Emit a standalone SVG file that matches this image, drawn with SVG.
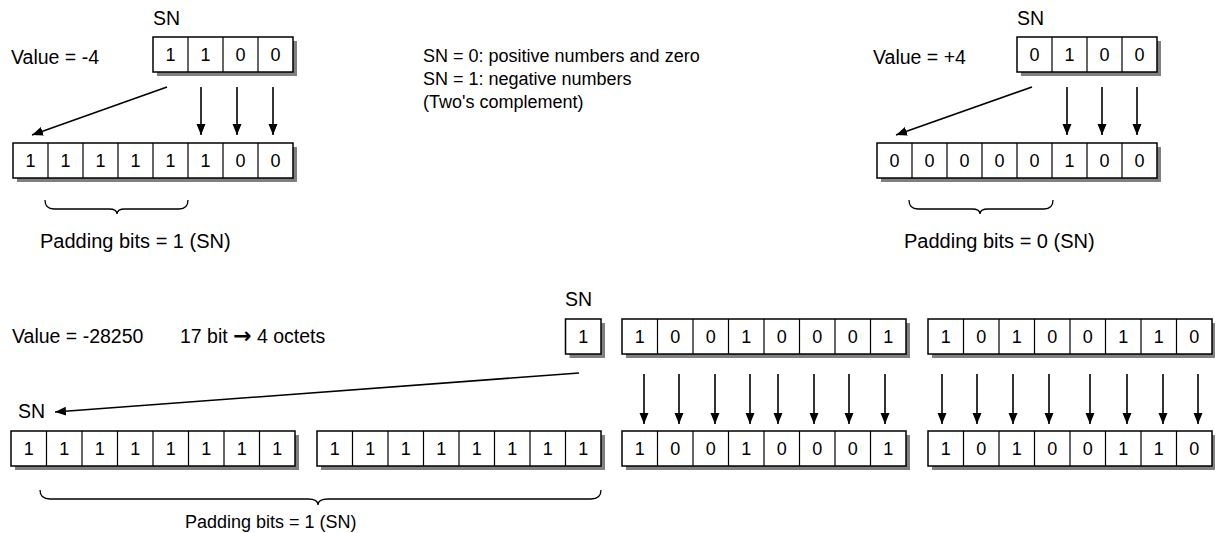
<svg xmlns="http://www.w3.org/2000/svg" width="1215" height="533" viewBox="0 0 1215 533">
<style>
text{font-family:"Liberation Sans",Arial,sans-serif;font-size:18px;fill:#000}
.l{font-size:19.5px}
.p{font-size:20px}
.d{text-anchor:middle}
.ax{font-family:"DejaVu Sans",sans-serif;font-size:22px;font-weight:bold}
.sh{fill:#808080}
.bx{fill:#fff;stroke:#000;stroke-width:1.5}
.cl{stroke:#000;stroke-width:1.2}
.ar{stroke:#000;stroke-width:1.6;fill:none;marker-end:url(#ah)}
.br{stroke:#000;stroke-width:1.3;fill:none}
</style>
<defs>
<marker id="ah" markerUnits="userSpaceOnUse" markerWidth="12" markerHeight="12" viewBox="0 0 12 12" refX="11" refY="6" orient="auto">
<path d="M0,1.5 L11,6 L0,10.5 Z" fill="#000"/>
</marker>
</defs>
<rect width="1215" height="533" fill="#fff"/>

<!-- Top-left -->
<g id="tl-labels">
<text class="l" x="153" y="25">SN</text>
<text class="l" x="11" y="64">Value = -4</text>
</g>
<g id="tl-src">
<rect class="sh" x="157" y="41" width="140" height="35"/>
<rect class="bx" x="153" y="37" width="140" height="35"/>
<path class="cl" d="M188,37V72M223,37V72M258,37V72"/>
<text class="d" x="170.5" y="61">1</text><text class="d" x="205.5" y="61">1</text><text class="d" x="240.5" y="61">0</text><text class="d" x="275.5" y="61">0</text>
</g>
<g id="tl-dst">
<rect class="sh" x="17" y="147" width="280" height="35"/>
<rect class="bx" x="13" y="143" width="280" height="35"/>
<path class="cl" d="M48,143V178M83,143V178M118,143V178M153,143V178M188,143V178M223,143V178M258,143V178"/>
<text class="d" x="30.5" y="167">1</text><text class="d" x="65.5" y="167">1</text><text class="d" x="100.5" y="167">1</text><text class="d" x="135.5" y="167">1</text><text class="d" x="170.5" y="167">1</text><text class="d" x="205.5" y="167">1</text><text class="d" x="240.5" y="167">0</text><text class="d" x="275.5" y="167">0</text>
</g>
<g id="tl-pad">
<path class="br" d="M45,200 Q45,209 54,209 L109,209 Q117,209 117,214 Q117,209 125,209 L179,209 Q188,209 188,200"/>
<text class="p" x="40" y="248">Padding bits = 1 (SN)</text>
</g>

<!-- Middle legend -->
<g id="legend">
<text x="423" y="62">SN = 0: positive numbers and zero</text>
<text x="423" y="85">SN = 1: negative numbers</text>
<text x="423" y="108">(Two's complement)</text>
</g>

<!-- Top-right -->
<g id="tr-labels">
<text class="l" x="1017" y="25">SN</text>
<text class="l" x="873" y="64">Value = +4</text>
</g>
<g id="tr-src">
<rect class="sh" x="1021" y="41" width="140" height="35"/>
<rect class="bx" x="1017" y="37" width="140" height="35"/>
<path class="cl" d="M1052,37V72M1087,37V72M1122,37V72"/>
<text class="d" x="1034.5" y="61">0</text><text class="d" x="1069.5" y="61">1</text><text class="d" x="1104.5" y="61">0</text><text class="d" x="1139.5" y="61">0</text>
</g>
<g id="tr-dst">
<rect class="sh" x="881" y="147" width="280" height="35"/>
<rect class="bx" x="877" y="143" width="280" height="35"/>
<path class="cl" d="M912,143V178M947,143V178M982,143V178M1017,143V178M1052,143V178M1087,143V178M1122,143V178"/>
<text class="d" x="894.5" y="167">0</text><text class="d" x="929.5" y="167">0</text><text class="d" x="964.5" y="167">0</text><text class="d" x="999.5" y="167">0</text><text class="d" x="1034.5" y="167">0</text><text class="d" x="1069.5" y="167">1</text><text class="d" x="1104.5" y="167">0</text><text class="d" x="1139.5" y="167">0</text>
</g>
<g id="tr-pad">
<path class="br" d="M909,200 Q909,209 918,209 L972,209 Q980,209 980,214 Q980,209 988,209 L1044,209 Q1053,209 1053,200"/>
<text class="p" x="904" y="248">Padding bits = 0 (SN)</text>
</g>

<!-- Bottom -->
<g id="b-labels">
<text class="l" x="565" y="306">SN</text>
<text class="l" x="12" y="343">Value = -28250</text>
<text class="l" x="180" y="343">17 bit <tspan class="ax">→</tspan> 4 octets</text>
<text class="l" x="18" y="418">SN</text>
</g>
<g id="b-sn">
<rect class="sh" x="569.5" y="323" width="35.5" height="35"/>
<rect class="bx" x="565.5" y="319" width="35.5" height="35"/>
<text class="d" x="583.25" y="343">1</text>
</g>
<g id="b-src1">
<rect class="sh" x="626" y="323" width="284" height="35"/>
<rect class="bx" x="622" y="319" width="284" height="35"/>
<path class="cl" d="M657.5,319V354M693,319V354M728.5,319V354M764,319V354M799.5,319V354M835,319V354M870.5,319V354"/>
<text class="d" x="639.75" y="343">1</text><text class="d" x="675.25" y="343">0</text><text class="d" x="710.75" y="343">0</text><text class="d" x="746.25" y="343">1</text><text class="d" x="781.75" y="343">0</text><text class="d" x="817.25" y="343">0</text><text class="d" x="852.75" y="343">0</text><text class="d" x="888.25" y="343">1</text>
</g>
<g id="b-src2">
<rect class="sh" x="932" y="323" width="284" height="35"/>
<rect class="bx" x="928" y="319" width="284" height="35"/>
<path class="cl" d="M963.5,319V354M999,319V354M1034.5,319V354M1070,319V354M1105.5,319V354M1141,319V354M1176.5,319V354"/>
<text class="d" x="945.75" y="343">1</text><text class="d" x="981.25" y="343">0</text><text class="d" x="1016.75" y="343">1</text><text class="d" x="1052.25" y="343">0</text><text class="d" x="1087.75" y="343">0</text><text class="d" x="1123.25" y="343">1</text><text class="d" x="1158.75" y="343">1</text><text class="d" x="1194.25" y="343">0</text>
</g>
<g id="b-dst1">
<rect class="sh" x="15" y="435" width="284" height="35"/>
<rect class="bx" x="11" y="431" width="284" height="35"/>
<path class="cl" d="M46.5,431V466M82,431V466M117.5,431V466M153,431V466M188.5,431V466M224,431V466M259.5,431V466"/>
<text class="d" x="28.75" y="455">1</text><text class="d" x="64.25" y="455">1</text><text class="d" x="99.75" y="455">1</text><text class="d" x="135.25" y="455">1</text><text class="d" x="170.75" y="455">1</text><text class="d" x="206.25" y="455">1</text><text class="d" x="241.75" y="455">1</text><text class="d" x="277.25" y="455">1</text>
</g>
<g id="b-dst2">
<rect class="sh" x="321" y="435" width="284" height="35"/>
<rect class="bx" x="317" y="431" width="284" height="35"/>
<path class="cl" d="M352.5,431V466M388,431V466M423.5,431V466M459,431V466M494.5,431V466M530,431V466M565.5,431V466"/>
<text class="d" x="334.75" y="455">1</text><text class="d" x="370.25" y="455">1</text><text class="d" x="405.75" y="455">1</text><text class="d" x="441.25" y="455">1</text><text class="d" x="476.75" y="455">1</text><text class="d" x="512.25" y="455">1</text><text class="d" x="547.75" y="455">1</text><text class="d" x="583.25" y="455">1</text>
</g>
<g id="b-dst3">
<rect class="sh" x="626" y="435" width="284" height="35"/>
<rect class="bx" x="622" y="431" width="284" height="35"/>
<path class="cl" d="M657.5,431V466M693,431V466M728.5,431V466M764,431V466M799.5,431V466M835,431V466M870.5,431V466"/>
<text class="d" x="639.75" y="455">1</text><text class="d" x="675.25" y="455">0</text><text class="d" x="710.75" y="455">0</text><text class="d" x="746.25" y="455">1</text><text class="d" x="781.75" y="455">0</text><text class="d" x="817.25" y="455">0</text><text class="d" x="852.75" y="455">0</text><text class="d" x="888.25" y="455">1</text>
</g>
<g id="b-dst4">
<rect class="sh" x="932" y="435" width="284" height="35"/>
<rect class="bx" x="928" y="431" width="284" height="35"/>
<path class="cl" d="M963.5,431V466M999,431V466M1034.5,431V466M1070,431V466M1105.5,431V466M1141,431V466M1176.5,431V466"/>
<text class="d" x="945.75" y="455">1</text><text class="d" x="981.25" y="455">0</text><text class="d" x="1016.75" y="455">1</text><text class="d" x="1052.25" y="455">0</text><text class="d" x="1087.75" y="455">0</text><text class="d" x="1123.25" y="455">1</text><text class="d" x="1158.75" y="455">1</text><text class="d" x="1194.25" y="455">0</text>
</g>
<g id="b-pad">
<path class="br" d="M40,490 Q40,499 50,499 L308,499 Q318,499 318,505 Q318,499 328,499 L591,499 Q601,499 601,490"/>
<text x="185" y="528">Padding bits = 1 (SN)</text>
</g>

<g id="connectors">
<path class="ar" d="M167,87 L32,135"/>
<path class="ar" d="M201,87 V135"/>
<path class="ar" d="M237,87 V135"/>
<path class="ar" d="M273,87 V135"/>
<path class="ar" d="M1032,87 L896,135"/>
<path class="ar" d="M1067,87 V135"/>
<path class="ar" d="M1102,87 V135"/>
<path class="ar" d="M1137,87 V135"/>
<path class="ar" d="M579,373 L55,412"/>
<path class="ar" d="M644,374 V424"/>
<path class="ar" d="M679,374 V424"/>
<path class="ar" d="M715,374 V424"/>
<path class="ar" d="M750,374 V424"/>
<path class="ar" d="M778,374 V424"/>
<path class="ar" d="M814,374 V424"/>
<path class="ar" d="M849,374 V424"/>
<path class="ar" d="M885,374 V424"/>
<path class="ar" d="M942,374 V424"/>
<path class="ar" d="M977,374 V424"/>
<path class="ar" d="M1013,374 V424"/>
<path class="ar" d="M1049,374 V424"/>
<path class="ar" d="M1090,374 V424"/>
<path class="ar" d="M1127,374 V424"/>
<path class="ar" d="M1163,374 V424"/>
<path class="ar" d="M1198,374 V424"/>
</g>
</svg>
